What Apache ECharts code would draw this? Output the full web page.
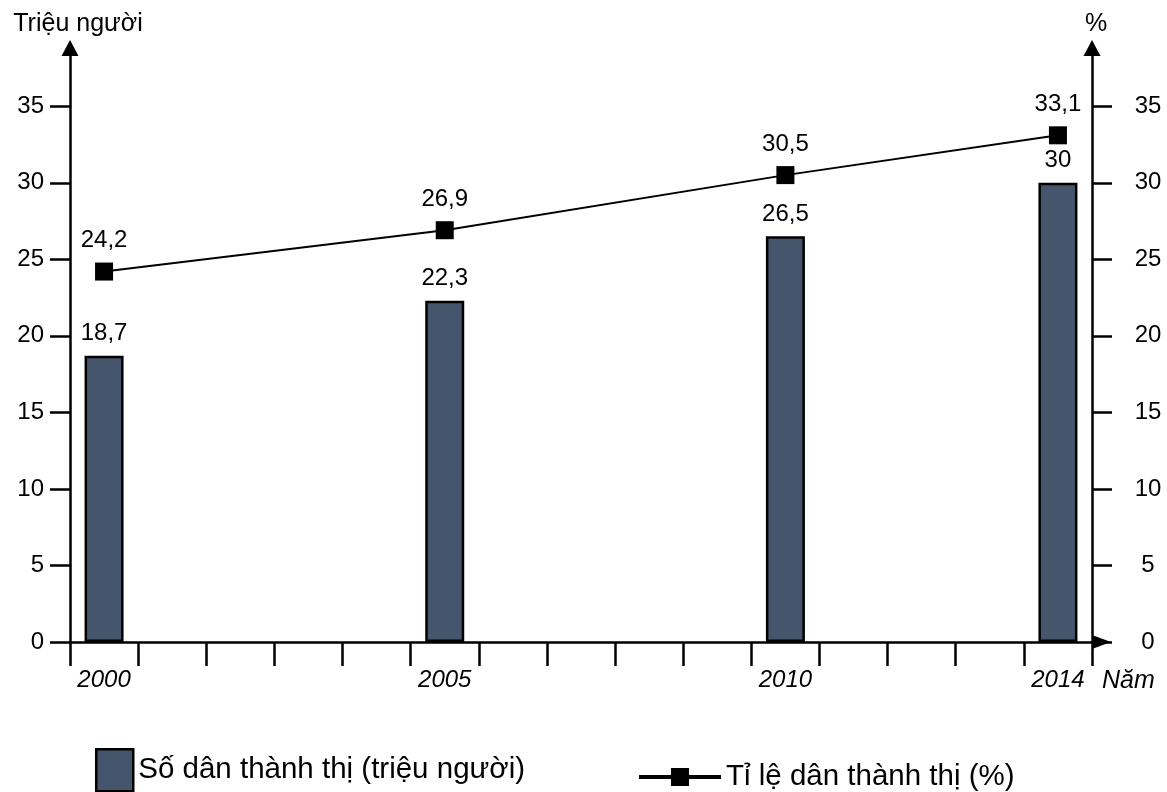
<!DOCTYPE html>
<html>
<head>
<meta charset="utf-8">
<script src="https://cdn.jsdelivr.net/npm/echarts@6/dist/echarts.min.js"></script>
<style>
html,body{margin:0;padding:0;background:#fff;}
#chart{width:1167px;height:792px;}
</style>
</head>
<body>
<div id="chart"></div>
<script>
// ---- data ----
const categories = ['2000','2001','2002','2003','2004','2005','2006','2007','2008','2009','2010','2011','2012','2013','2014'];
const dataYears = ['2000','2005','2010','2014'];
const popValues = [18.7, 22.3, 26.5, 30];
const rateValues = [24.2, 26.9, 30.5, 33.1];
const tickValues = [0, 5, 10, 15, 20, 25, 30, 35];
const barName = 'Số dân thành thị (triệu người)';
const lineName = 'Tỉ lệ dân thành thị (%)';
const leftAxisName = 'Triệu người';
const rightAxisName = '%';
const xAxisName = 'Năm';

const FONT = 'Liberation Sans, Arial, sans-serif';
const comma = v => String(v).replace('.', ',');

const chart = echarts.init(document.getElementById('chart'), null, {renderer: 'canvas'});

function yAxisCfg(pos, name, labelCfg, namePad) {
  return {
    type: 'value',
    position: pos,
    min: 0, max: 39,
    interval: 5,
    name: name,
    nameLocation: 'end',
    nameGap: 8,
    nameTextStyle: {fontFamily: FONT, fontSize: 25, color: '#000', padding: namePad},
    splitLine: {show: false},
    axisLine: {show: true, lineStyle: {color: '#000', width: 2.5},
      symbol: ['none', 'triangle'], symbolSize: [17, 16], symbolOffset: [0, -3]},
    axisTick: {show: true, length: 20, lineStyle: {color: '#000', width: 2.5}, customValues: tickValues},
    axisLabel: Object.assign({fontFamily: FONT, fontSize: 24, color: '#000', customValues: tickValues}, labelCfg)
  };
}

const option = {
  backgroundColor: '#fff',
  animation: false,
  textStyle: {fontFamily: FONT},
  grid: {left: 70, right: 75, top: 45, bottom: 150, containLabel: false, outerBoundsMode: 'none'},
  legend: [
    {
      data: [{name: barName, icon: 'rect'}],
      left: 95, top: 748, padding: 0,
      itemWidth: 37, itemHeight: 42,
      itemStyle: {borderColor: '#000', borderWidth: 2.5},
      textStyle: {fontFamily: FONT, fontSize: 29.5, color: '#000'}
    },
    {
      data: [lineName],
      left: 637, top: 762, padding: 0,
      itemWidth: 82, itemHeight: 22.5,
      lineStyle: {width: 4, color: '#000'},
      itemStyle: {color: '#000'},
      textStyle: {fontFamily: FONT, fontSize: 29.5, color: '#000', padding: [0, 0, 12, 0]}
    }
  ],
  xAxis: {
    type: 'category',
    data: categories,
    boundaryGap: true,
    name: xAxisName,
    nameLocation: 'end',
    nameGap: 10,
    nameTextStyle: {fontFamily: FONT, fontSize: 25, fontStyle: 'italic', color: '#000',
      verticalAlign: 'top', align: 'left', padding: [27, 0, 0, 0]},
    axisLine: {show: true, lineStyle: {color: '#000', width: 2.5},
      symbol: ['none', 'triangle'], symbolSize: [14, 19], symbolOffset: [0, 9.5]},
    axisTick: {show: true, interval: 0, alignWithLabel: false, length: 24, lineStyle: {color: '#000', width: 2.5}},
    axisLabel: {
      interval: (idx, val) => dataYears.includes(val),
      margin: 26,
      fontFamily: FONT, fontSize: 24, fontStyle: 'italic', color: '#000'
    },
    splitLine: {show: false}
  },
  yAxis: [
    yAxisCfg('left', leftAxisName, {margin: 26}, [0, 0, 0, 16]),
    yAxisCfg('right', rightAxisName, {margin: 56, align: 'center'}, [0, 0, 0, 8])
  ],
  series: [
    {
      name: barName,
      type: 'bar',
      yAxisIndex: 0,
      barWidth: 39,
      data: dataYears.map((y, i) => [y, popValues[i]]),
      itemStyle: {color: '#45556c', borderColor: '#000', borderWidth: 2.5},
      label: {
        show: true, position: 'top', distance: 10,
        fontFamily: FONT, fontSize: 24, color: '#000',
        formatter: p => comma(p.value[1])
      }
    },
    {
      name: lineName,
      type: 'line',
      yAxisIndex: 1,
      z: 5,
      data: dataYears.map((y, i) => [y, rateValues[i]]),
      symbol: 'rect',
      symbolSize: 18,
      lineStyle: {color: '#000', width: 2},
      itemStyle: {color: '#000'},
      label: {
        show: true, position: 'top', distance: 10,
        fontFamily: FONT, fontSize: 24, color: '#000',
        formatter: p => comma(p.value[1])
      }
    }
  ]
};
chart.setOption(option);
</script>
</body>
</html>
